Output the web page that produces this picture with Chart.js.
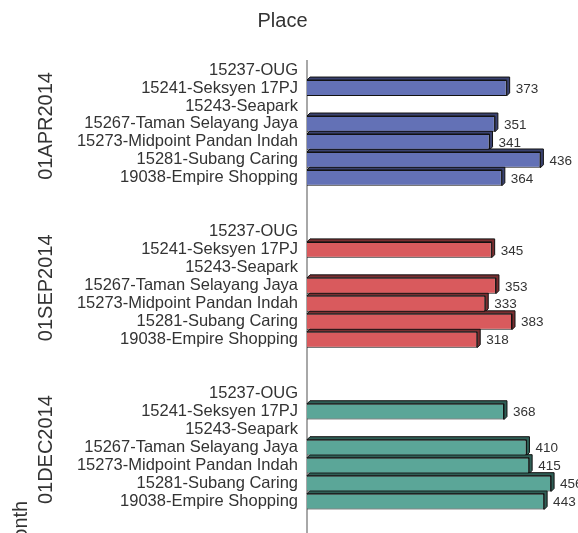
<!DOCTYPE html>
<html>
<head>
<meta charset="utf-8">
<script src="https://cdn.jsdelivr.net/npm/chart.js@4.4.1/dist/chart.umd.min.js"></script>
<style>
  html, body { margin: 0; padding: 0; background: #fff; overflow: hidden; }
  canvas { display: block; }
</style>
</head>
<body>
<canvas id="chart" width="578" height="1015"></canvas>
<script>
// Places reported for each month (same order in every group)
const PLACES = [
  '15237-OUG',
  '15241-Seksyen 17PJ',
  '15243-Seapark',
  '15267-Taman Selayang Jaya',
  '15273-Midpoint Pandan Indah',
  '15281-Subang Caring',
  '19038-Empire Shopping'
];
const MONTHS = ['01APR2014', '01SEP2014', '01DEC2014'];

// Counts per place; null = no value for that place in the month
const APR_VALUES = [null, 373, null, 351, 341, 436, 364];
const SEP_VALUES = [null, 345, null, 353, 333, 383, 318];
const DEC_VALUES = [null, 368, null, 410, 415, 456, 443];

const FACE_COLORS = ['#6371B6', '#D95A5D', '#5BA698'];
const SIDE_COLORS = ['#3a4270', '#7a2e30', '#2f5f56'];

const GAP_ROWS = 2;      // empty rows between month groups
const TOTAL_ROWS = 52;   // rows on the category axis (panel continues below)
const DEPTH = 3;         // 3-D extrusion of each bar, in px

const FONT = '"Liberation Sans", Arial, sans-serif';
const monthValues = [APR_VALUES, SEP_VALUES, DEC_VALUES];
const groupSize = PLACES.length + GAP_ROWS;

// Row labels: each month's places, separated by blank rows
const rowLabels = [];
MONTHS.forEach((m, g) => {
  PLACES.forEach(p => rowLabels.push(p));
  if (g < MONTHS.length - 1) for (let k = 0; k < GAP_ROWS; k++) rowLabels.push('');
});
while (rowLabels.length < TOTAL_ROWS) rowLabels.push('');

const datasets = MONTHS.map((m, g) => {
  const data = new Array(TOTAL_ROWS).fill(null);
  monthValues[g].forEach((v, i) => { data[g * groupSize + i] = v; });
  return {
    label: m,
    data,
    backgroundColor: FACE_COLORS[g],
    sideColor: SIDE_COLORS[g],
    borderColor: '#111',
    borderWidth: 1,
    barPercentage: 0.88,
    categoryPercentage: 1.0
  };
});

// Extruded top and right faces drawn behind each bar
const barDepth = {
  id: 'barDepth',
  beforeDatasetsDraw(chart) {
    const ctx = chart.ctx;
    ctx.save();
    chart.data.datasets.forEach((ds, di) => {
      const meta = chart.getDatasetMeta(di);
      meta.data.forEach((bar, i) => {
        if (ds.data[i] == null) return;
        const p = bar.getProps(['x', 'y', 'base', 'height'], true);
        const top = p.y - p.height / 2, bottom = p.y + p.height / 2;
        const left = p.base, right = p.x, d = DEPTH;
        ctx.beginPath();
        ctx.moveTo(left, top);
        ctx.lineTo(left + d, top - d);
        ctx.lineTo(right + d, top - d);
        ctx.lineTo(right + d, bottom - d);
        ctx.lineTo(right, bottom);
        ctx.lineTo(right, top);
        ctx.closePath();
        ctx.fillStyle = ds.sideColor;
        ctx.fill();
        ctx.strokeStyle = '#111';
        ctx.lineWidth = 1;
        ctx.stroke();
      });
    });
    ctx.restore();
  },
  // value labels at the end of each bar
  afterDatasetsDraw(chart) {
    const ctx = chart.ctx;
    ctx.save();
    ctx.font = '13.5px ' + FONT;
    ctx.fillStyle = '#333';
    ctx.textAlign = 'left';
    ctx.textBaseline = 'middle';
    chart.data.datasets.forEach((ds, di) => {
      const meta = chart.getDatasetMeta(di);
      meta.data.forEach((bar, i) => {
        const v = ds.data[i];
        if (v == null) return;
        const p = bar.getProps(['x', 'y'], true);
        ctx.fillText(String(v), p.x + DEPTH + 6, p.y + 1);
      });
    });
    ctx.restore();
  },
  // month names, rotated, beside each group of places
  afterDraw(chart) {
    const ctx = chart.ctx;
    const yScale = chart.scales.y;
    ctx.save();
    ctx.font = '20px ' + FONT;
    ctx.fillStyle = '#333';
    ctx.textAlign = 'center';
    ctx.textBaseline = 'middle';
    MONTHS.forEach((m, g) => {
      const y = yScale.getPixelForValue(g * groupSize + (PLACES.length - 1) / 2);
      ctx.save();
      ctx.translate(46, y + 2);
      ctx.rotate(-Math.PI / 2);
      ctx.fillText(m, 0, 0);
      ctx.restore();
    });
    ctx.restore();
  }
};

new Chart(document.getElementById('chart'), {
  type: 'bar',
  data: { labels: rowLabels, datasets },
  options: {
    responsive: false,
    animation: false,
    indexAxis: 'y',
    layout: { padding: { left: 0, right: 13, top: 0, bottom: 6 } },
    datasets: { bar: { grouped: false } },
    plugins: {
      legend: { display: false },
      tooltip: { enabled: false },
      title: {
        display: true,
        text: 'Place',
        color: '#333',
        font: { family: FONT, size: 20, weight: 'normal', lineHeight: 1.2 },
        padding: { top: 9, bottom: 28 }
      }
    },
    scales: {
      x: {
        display: false,
        min: 0,
        max: 482
      },
      y: {
        afterFit(scale) { scale.width = 307; },
        grid: { display: false, drawTicks: false },
        border: { display: true, color: '#a8a8a8', width: 2 },
        ticks: {
          autoSkip: false,
          padding: 9,
          color: '#333',
          font: { family: FONT, size: 16.5 }
        },
        title: {
          display: true,
          text: 'Month',
          color: '#333',
          font: { family: FONT, size: 20 },
          padding: { top: 9, bottom: 0 }
        }
      }
    }
  },
  plugins: [barDepth]
});
</script>
</body>
</html>
